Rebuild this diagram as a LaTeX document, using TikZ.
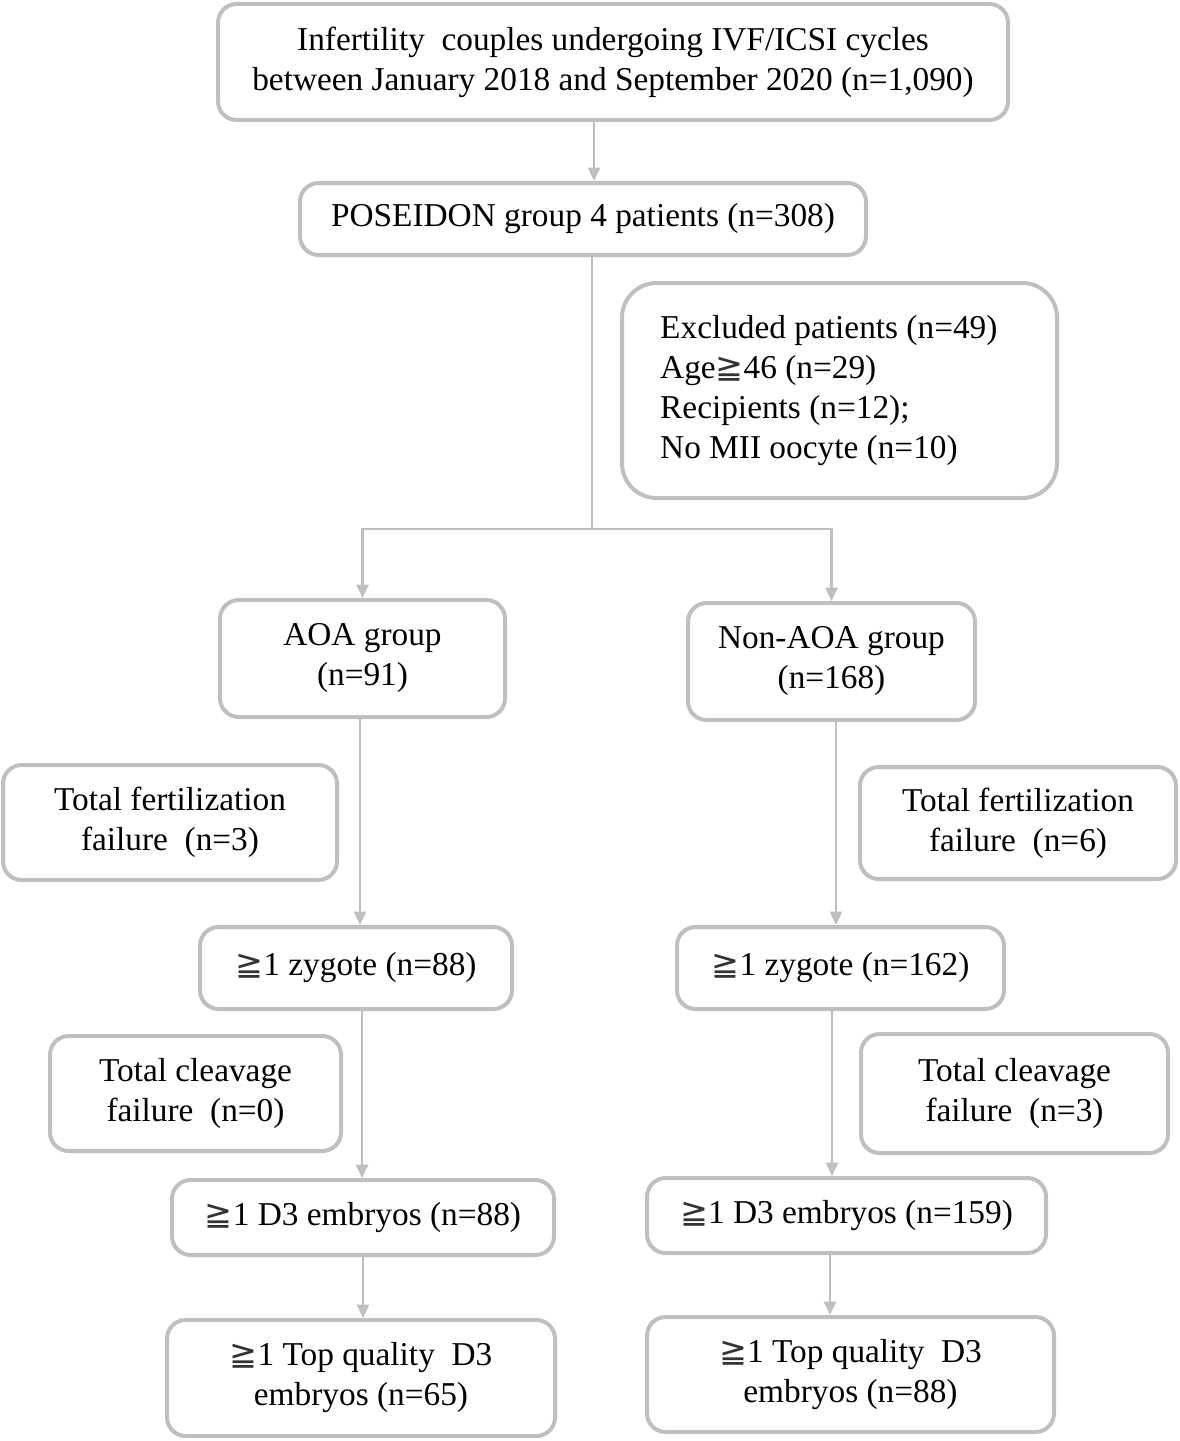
\documentclass[tikz,border=0pt]{standalone}
\usepackage{fontspec}
\setmainfont{Liberation Serif}
\newfontfamily\symf{DejaVu Sans}
\usetikzlibrary{arrows.meta}
\definecolor{gry}{RGB}{191,191,191}
\newcommand{\gq}{{\symf\color{black!80}≧}}
\begin{document}
\begin{tikzpicture}[x=0.75pt,y=-0.75pt,
  bx/.style 2 args={draw=gry,line width=3pt,rounded corners=14pt,inner sep=0pt,
    minimum width=#1*0.75pt,minimum height=#2*0.75pt,align=center,
    font=\fontsize{25}{30}\selectfont,text=black},
  ln/.style={draw=gry,line width=1.8pt},
  arr/.style={ln,-{Triangle[width=9pt,length=10pt]}}]
\useasboundingbox (0,0) rectangle (1180,1441);
\node[bx={790}{116}] (top) at (613,62) {Infertility~ couples undergoing IVF/ICSI cycles\\between January 2018 and September 2020 (n=1,090)};
\node[bx={566}{72}] (pos) at (583,219) {POSEIDON group 4 patients (n=308)};
\node[bx={435}{215},rounded corners=26pt,align=left] (excl) at (839.5,390.5) {Excluded patients (n=49)\hspace*{16pt}\\Age\gq46 (n=29)\\Recipients (n=12);\\No MII oocyte (n=10)};
\node[bx={285}{117}] (aoa) at (362.5,658.5) {AOA group\\(n=91)};
\node[bx={287}{117}] (non) at (831.5,661.5) {Non-AOA group\\(n=168)};
\node[bx={334}{115}] (tff1) at (170,822.5) {Total fertilization\\failure~ (n=3)};
\node[bx={316}{112}] (tff2) at (1018,823) {Total fertilization\\failure~ (n=6)};
\node[bx={312}{82}] (zy1) at (356,968) {\gq1 zygote (n=88)};
\node[bx={327}{82}] (zy2) at (840.5,968) {\gq1 zygote (n=162)};
\node[bx={291}{115}] (tcf1) at (195.5,1093.5) {Total cleavage\\failure~ (n=0)};
\node[bx={307}{119}] (tcf2) at (1014.5,1093.5) {Total cleavage\\failure~ (n=3)};
\node[bx={382}{75}] (d31) at (363,1217.5) {\gq1 D3 embryos (n=88)};
\node[bx={399}{75}] (d32) at (846.5,1215.5) {\gq1 D3 embryos (n=159)};
\node[bx={388}{116}] (tq1) at (361,1378) {\gq1 Top quality~ D3\\embryos (n=65)};
\node[bx={407}{115}] (tq2) at (850.5,1374.5) {\gq1 Top quality~ D3\\embryos (n=88)};
% column coordinates
\coordinate (c0) at (594,0);
\coordinate (j) at (592,529);
\coordinate (cl1) at (360,0);
\coordinate (cl2) at (362,0);
\coordinate (cl3) at (363,0);
\coordinate (cr1) at (836,0);
\coordinate (cr2) at (832,0);
\coordinate (cr3) at (830,0);
\draw[arr] (top.south -| c0) -- (pos.north -| c0);
\draw[ln] (pos.south -| j) -- (j);
\draw[arr] (j) -| (aoa.north);
\draw[arr] (j) -| (non.north);
\draw[arr] (aoa.south -| cl1) -- (zy1.north -| cl1);
\draw[arr] (non.south -| cr1) -- (zy2.north -| cr1);
\draw[arr] (zy1.south -| cl2) -- (d31.north -| cl2);
\draw[arr] (zy2.south -| cr2) -- (d32.north -| cr2);
\draw[arr] (d31.south -| cl3) -- (tq1.north -| cl3);
\draw[arr] (d32.south -| cr3) -- (tq2.north -| cr3);
\end{tikzpicture}
\end{document}
